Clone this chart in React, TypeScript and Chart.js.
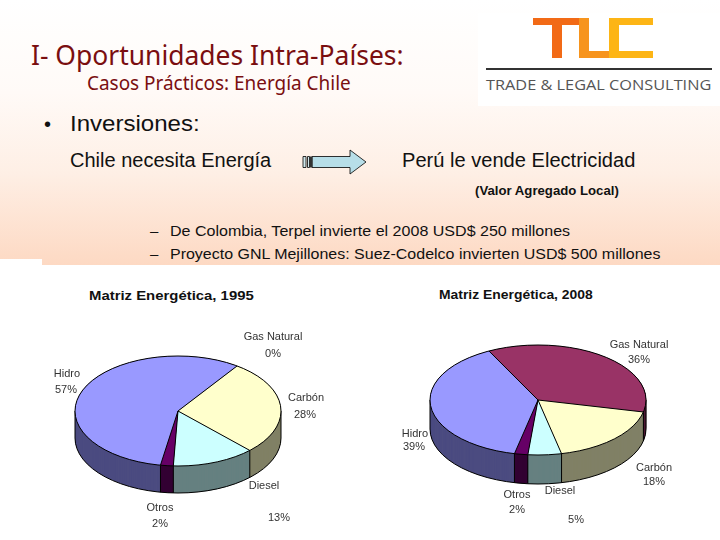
import React, { useEffect, useLayoutEffect, useRef } from "react";
import { Chart, registerables } from "chart.js";

Chart.register(...registerables);

// ---- data ----
const categories = ["Gas Natural", "Carbón", "Diesel", "Otros", "Hidro"];
const values1995 = [0, 28, 13, 2, 57];
const values2008 = [36, 18, 5, 2, 39];
const topColors = ["#993366", "#FFFFCC", "#CCFFFF", "#660066", "#9999FF"];
const wallColors = ["#4D1A33", "#808066", "#668080", "#330033", "#4C4C80"];
const title1995 = "Matriz Energética, 1995";
const title2008 = "Matriz Energética, 2008";

const SANS = '"Liberation Sans", Arial, sans-serif';

type PieOpts = { depth: number; squash: number; wall: string[] };

const pie3d = {
  id: "pie3d",
  beforeDatasetsDraw(chart: any, _a: any, o: PieOpts) {
    const { ctx } = chart;
    const arcs = chart.getDatasetMeta(0).data.map((a: any) => a.getProps(["x", "y", "startAngle", "endAngle", "outerRadius"]));
    const { x: cx, y: cy, outerRadius: r } = arcs[0];
    const k = o.squash;
    // side wall: the sector shapes repeated, darker, bottom to top
    for (let d = o.depth; d >= 0; d -= 0.5) {
      ctx.save();
      ctx.translate(cx, cy + d);
      ctx.scale(1, k);
      ctx.translate(-cx, -cy);
      arcs.forEach((a: any, i: number) => {
        if (a.endAngle - a.startAngle <= 0) return;
        ctx.beginPath();
        ctx.moveTo(cx, cy);
        ctx.arc(cx, cy, r, a.startAngle, a.endAngle);
        ctx.closePath();
        ctx.fillStyle = o.wall[i];
        ctx.fill();
      });
      ctx.restore();
    }
    // outline of the wall, in page pixels
    ctx.save();
    ctx.strokeStyle = "#000";
    ctx.lineWidth = 1;
    ctx.beginPath();
    ctx.ellipse(cx, cy + o.depth, r, r * k, 0, 0, Math.PI);
    ctx.moveTo(cx - r, cy);
    ctx.lineTo(cx - r, cy + o.depth);
    ctx.moveTo(cx + r, cy);
    ctx.lineTo(cx + r, cy + o.depth);
    arcs.forEach((a: any) => {
      if (a.endAngle - a.startAngle <= 0) return;
      if (Math.sin(a.startAngle) > 0) {
        const px = cx + r * Math.cos(a.startAngle);
        const py = cy + r * k * Math.sin(a.startAngle);
        ctx.moveTo(px, py);
        ctx.lineTo(px, py + o.depth);
      }
    });
    ctx.stroke();
    ctx.restore();
    // squash the top face that the library is about to draw
    ctx.save();
    ctx.translate(cx, cy);
    ctx.scale(1, k);
    ctx.translate(-cx, -cy);
  },
  afterDatasetsDraw(chart: any, _a: any, o: PieOpts) {
    const { ctx } = chart;
    ctx.restore();
    const arcs = chart.getDatasetMeta(0).data.map((a: any) => a.getProps(["x", "y", "startAngle", "endAngle", "outerRadius"]));
    const { x: cx, y: cy, outerRadius: r } = arcs[0];
    ctx.save();
    ctx.strokeStyle = "#000";
    ctx.lineWidth = 1;
    ctx.beginPath();
    ctx.ellipse(cx, cy, r, r * o.squash, 0, 0, Math.PI * 2);
    arcs.forEach((a: any) => {
      if (a.endAngle - a.startAngle <= 0) return;
      ctx.moveTo(cx, cy);
      ctx.lineTo(cx + r * Math.cos(a.startAngle), cy + r * o.squash * Math.sin(a.startAngle));
    });
    ctx.stroke();
    ctx.restore();
  },
};

function Pie3D({ values, cx, cy, r, ry, depth, rotation }: { values: number[]; cx: number; cy: number; r: number; ry: number; depth: number; rotation: number }) {
  const ref = useRef<HTMLCanvasElement>(null);
  const size = 2 * r + 24;
  useEffect(() => {
    const chart = new Chart(ref.current!, {
      type: "doughnut",
      data: {
        labels: categories,
        datasets: [{ data: values, backgroundColor: topColors, borderWidth: 0, rotation }],
      },
      options: {
        animation: false,
        responsive: false,
        cutout: 0,
        layout: { padding: 12 },
        plugins: {
          legend: { display: false },
          tooltip: { enabled: false },
          pie3d: { depth, squash: ry / r, wall: wallColors },
        },
      } as any,
      plugins: [pie3d as any],
    });
    return () => chart.destroy();
  }, []);
  return (
    <canvas
      ref={ref}
      width={size}
      height={size}
      style={{ position: "absolute", left: cx - size / 2, top: cy - size / 2, width: size, height: size }}
    />
  );
}

// Text placed by left edge (or centre) and vertical centre; w = target width
function T({ x, y, w, center, size, color = "#111", bold, font = SANS, children }: any) {
  const ref = useRef<HTMLDivElement>(null);
  useLayoutEffect(() => {
    if (!w || !ref.current) return;
    const natural = ref.current.offsetWidth;
    ref.current.style.transform = `translateY(-50%) scaleX(${w / natural})`;
  }, []);
  return (
    <div
      ref={ref}
      style={{
        position: "absolute",
        left: x,
        top: y,
        transform: center ? "translate(-50%,-50%)" : "translateY(-50%)",
        transformOrigin: "left center",
        whiteSpace: "nowrap",
        fontFamily: font,
        fontSize: size,
        fontWeight: bold ? 700 : 400,
        color,
        lineHeight: 1,
      }}
    >
      {children}
    </div>
  );
}

function Box({ x, y, w, h, bg }: any) {
  return <div style={{ position: "absolute", left: x, top: y, width: w, height: h, background: bg }} />;
}

function Lab(props: any) {
  return <T center size={11} color="#333" {...props} />;
}

export default function App() {
  return (
    <div style={{ position: "fixed", left: 0, top: 0, width: 720, height: 540, overflow: "hidden", background: "#fff" }}>
      <Box x={0} y={0} w={720} h={265} bg="linear-gradient(180deg,#ffffff 0%,#fffaf7 35%,#feefe5 65%,#fdd9c3 100%)" />
      <Box x={0} y={259} w={42} h={6} bg="#fff" />

      {/* logo */}
      <Box x={478} y={13} w={242} h={93} bg="#fff" />
      <Box x={533} y={18} w={47} h={7} bg="#F26A16" />
      <Box x={552} y={18} w={10} h={40} bg="#F26A16" />
      <Box x={579} y={18} w={10} h={40} bg="#F7941D" />
      <Box x={579} y={51} w={30} h={7} bg="#F7941D" />
      <Box x={609} y={18} w={10} h={40} bg="#FDB515" />
      <Box x={609} y={18} w={44} h={7} bg="#FDB515" />
      <Box x={609} y={51} w={44} h={7} bg="#FDB515" />
      <Box x={486} y={68} w={226} h={2} bg="#333" />
      <T x={486} y={84} w={225} size={15} color="#555" font='"Open Sans", sans-serif'>TRADE &amp; LEGAL CONSULTING</T>

      {/* headings */}
      <T x={31} y={54} w={373} size={28} color="#7A0E10" font='"Noto Sans", sans-serif'>I- Oportunidades Intra-Países:</T>
      <T x={87} y={83} w={264} size={19} color="#7A0E10" font='"Noto Sans", sans-serif'>Casos Prácticos: Energía Chile</T>

      <T x={44} y={124} size={20}>•</T>
      <T x={70} y={124} w={130} size={22}>Inversiones:</T>
      <T x={70} y={160} w={201} size={20}>Chile necesita Energía</T>
      <T x={402} y={160} w={233} size={20}>Perú le vende Electricidad</T>
      <T x={475} y={190} w={144} size={13} bold>(Valor Agregado Local)</T>

      <svg style={{ position: "absolute", left: 300, top: 145, width: 70, height: 34 }} viewBox="0 0 70 34">
        <path d="M3 11.5H6V22.5H3ZM7.5 11.5H9.5V22.5H7.5Z" fill="#cfe6ea" stroke="#000" strokeWidth="0.8" />
        <path d="M12 11.5H50V5L66 17L50 29V22.5H12Z" fill="#B7DEE8" stroke="#000" strokeWidth="0.8" />
        <path d="M10 11.5H12.5V22.5H10Z" fill="#333" />
      </svg>

      <T x={150} y={230} size={15}>–</T>
      <T x={170} y={230} w={400} size={15}>De Colombia, Terpel invierte el 2008 USD$ 250 millones</T>
      <T x={150} y={253} size={15}>–</T>
      <T x={170} y={253} w={491} size={15}>Proyecto GNL Mejillones: Suez-Codelco invierten USD$ 500 millones</T>

      {/* charts */}
      <T x={89} y={295} w={165} size={13} bold>{title1995}</T>
      <T x={439} y={294} w={154} size={13} bold>{title2008}</T>

      <Pie3D values={values1995} cx={178} cy={411} r={103} ry={55} depth={27} rotation={35} />
      <Pie3D values={values2008} cx={538} cy={400} r={108} ry={55} depth={29} rotation={-27} />

      <Lab x={273} y={336}>{categories[0]}</Lab>
      <Lab x={273} y={353}>{values1995[0]}%</Lab>
      <Lab x={67} y={373}>{categories[4]}</Lab>
      <Lab x={66} y={389}>{values1995[4]}%</Lab>
      <Lab x={306} y={397}>{categories[1]}</Lab>
      <Lab x={305} y={414}>{values1995[1]}%</Lab>
      <Lab x={264} y={485}>{categories[2]}</Lab>
      <Lab x={279} y={517}>{values1995[2]}%</Lab>
      <Lab x={160} y={507}>{categories[3]}</Lab>
      <Lab x={160} y={523}>{values1995[3]}%</Lab>

      <Lab x={639} y={344}>{categories[0]}</Lab>
      <Lab x={639} y={359}>{values2008[0]}%</Lab>
      <Lab x={654} y={467}>{categories[1]}</Lab>
      <Lab x={654} y={481}>{values2008[1]}%</Lab>
      <Lab x={560} y={490}>{categories[2]}</Lab>
      <Lab x={576} y={519}>{values2008[2]}%</Lab>
      <Lab x={517} y={494}>{categories[3]}</Lab>
      <Lab x={517} y={509}>{values2008[3]}%</Lab>
      <Lab x={415} y={433}>{categories[4]}</Lab>
      <Lab x={414} y={446}>{values2008[4]}%</Lab>
    </div>
  );
}
